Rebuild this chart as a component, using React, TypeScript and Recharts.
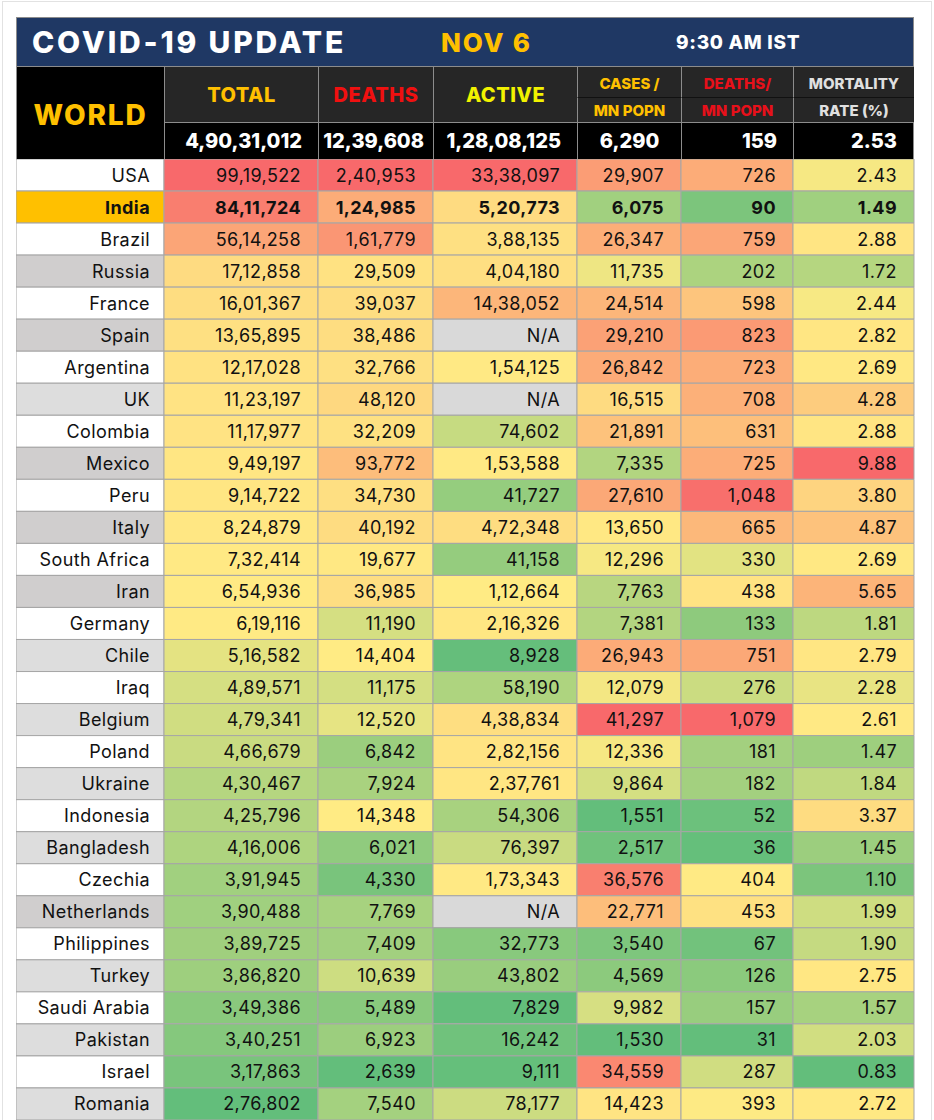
import React from 'react';
import { BarChart, Bar, XAxis, YAxis, Cell, LabelList } from 'recharts';

const countries = [
  'USA', 'India', 'Brazil', 'Russia', 'France', 'Spain', 'Argentina', 'UK', 'Colombia', 'Mexico',
  'Peru', 'Italy', 'South Africa', 'Iran', 'Germany', 'Chile', 'Iraq', 'Belgium', 'Poland', 'Ukraine',
  'Indonesia', 'Bangladesh', 'Czechia', 'Netherlands', 'Philippines', 'Turkey', 'Saudi Arabia', 'Pakistan', 'Israel', 'Romania',
];
const totalCases = [
  9919522, 8411724, 5614258, 1712858, 1601367, 1365895, 1217028, 1123197, 1117977, 949197,
  914722, 824879, 732414, 654936, 619116, 516582, 489571, 479341, 466679, 430467,
  425796, 416006, 391945, 390488, 389725, 386820, 349386, 340251, 317863, 276802,
];
const deaths = [
  240953, 124985, 161779, 29509, 39037, 38486, 32766, 48120, 32209, 93772,
  34730, 40192, 19677, 36985, 11190, 14404, 11175, 12520, 6842, 7924,
  14348, 6021, 4330, 7769, 7409, 10639, 5489, 6923, 2639, 7540,
];
const activeCases: (number | null)[] = [
  3338097, 520773, 388135, 404180, 1438052, null, 154125, null, 74602, 153588,
  41727, 472348, 41158, 112664, 216326, 8928, 58190, 438834, 282156, 237761,
  54306, 76397, 173343, null, 32773, 43802, 7829, 16242, 9111, 78177,
];
const casesPerMn = [
  29907, 6075, 26347, 11735, 24514, 29210, 26842, 16515, 21891, 7335,
  27610, 13650, 12296, 7763, 7381, 26943, 12079, 41297, 12336, 9864,
  1551, 2517, 36576, 22771, 3540, 4569, 9982, 1530, 34559, 14423,
];
const deathsPerMn = [
  726, 90, 759, 202, 598, 823, 723, 708, 631, 725,
  1048, 665, 330, 438, 133, 751, 276, 1079, 181, 182,
  52, 36, 404, 453, 67, 126, 157, 31, 287, 393,
];
const mortalityRate = [
  2.43, 1.49, 2.88, 1.72, 2.44, 2.82, 2.69, 4.28, 2.88, 9.88,
  3.8, 4.87, 2.69, 5.65, 1.81, 2.79, 2.28, 2.61, 1.47, 1.84,
  3.37, 1.45, 1.1, 1.99, 1.9, 2.75, 1.57, 2.03, 0.83, 2.72,
];
const worldValues = [49031012, 1239608, 12808125, 6290, 159, 2.53];

const darkGrayRows = ['Russia', 'Spain', 'Mexico', 'Italy', 'Iran', 'Netherlands'];
const lightGrayRows = ['UK', 'Chile', 'Belgium', 'Ukraine', 'Bangladesh', 'Turkey', 'Pakistan', 'Romania'];

const FONT = 'Inter, "Open Sans", sans-serif';
const LEFT = 16;
const COL_W = [148, 154, 115, 144, 104, 112, 121];
const TABLE_W = COL_W.reduce((a, b) => a + b, 0);
const colX = COL_W.map((_, i) => LEFT + COL_W.slice(0, i).reduce((a, b) => a + b, 0));

// indian digit grouping: 99,19,522
const fmtIN = (n: number) => {
  const s = Math.round(n).toString();
  if (s.length <= 3) return s;
  const last3 = s.slice(-3);
  let rest = s.slice(0, -3);
  const parts: string[] = [];
  while (rest.length > 2) {
    parts.unshift(rest.slice(-2));
    rest = rest.slice(0, -2);
  }
  if (rest) parts.unshift(rest);
  return parts.join(',') + ',' + last3;
};
const fmtRate = (n: number) => n.toFixed(2);

// excel style green - yellow - red scale (min, 50th percentile, max)
const GREEN = [99, 190, 123];
const YELLOW = [255, 235, 132];
const RED = [248, 105, 107];
const mix = (a: number[], b: number[], t: number) =>
  `rgb(${a.map((v, i) => Math.round(v + (b[i] - v) * t)).join(',')})`;
const makeScale = (vals: (number | null)[]) => {
  const s = (vals.filter((v) => v !== null) as number[]).slice().sort((a, b) => a - b);
  const min = s[0];
  const max = s[s.length - 1];
  const r = 0.5 * (s.length - 1);
  const lo = Math.floor(r);
  const mid = s[lo] + (s[Math.min(lo + 1, s.length - 1)] - s[lo]) * (r - lo);
  return (v: number | null) => {
    if (v === null) return '#D9D9D9';
    if (v <= mid) return mix(GREEN, YELLOW, mid === min ? 1 : (v - min) / (mid - min));
    return mix(YELLOW, RED, max === mid ? 0 : (v - mid) / (max - mid));
  };
};

const columns = [
  { values: totalCases, fmt: fmtIN },
  { values: deaths, fmt: fmtIN },
  { values: activeCases, fmt: fmtIN },
  { values: casesPerMn, fmt: fmtIN },
  { values: deathsPerMn, fmt: fmtIN },
  { values: mortalityRate, fmt: fmtRate },
];
const scales = columns.map((c) => makeScale(c.values));

const rows = countries.map((country, i) => {
  const row: Record<string, string | number> = { country, w0: COL_W[0] };
  columns.forEach((c, j) => {
    const v = c.values[i];
    row[`w${j + 1}`] = COL_W[j + 1];
    row[`t${j + 1}`] = v === null ? 'N/A' : c.fmt(v);
  });
  return row;
});

const countryFill = (c: string) => {
  if (c === 'India') return '#FFC000';
  if (darkGrayRows.includes(c)) return '#D0CECE';
  if (lightGrayRows.includes(c)) return '#DDDDDD';
  return '#FFFFFF';
};

const cellLabel = (pad: number) => (props: any) => {
  const { x, y, width, height, value, index } = props;
  const bold = countries[index] === 'India';
  return (
    <text
      x={Number(x) + Number(width) - pad}
      y={Number(y) + Number(height) / 2}
      textAnchor="end"
      dominantBaseline="central"
      fontFamily={FONT}
      fontSize={18}
      fontWeight={bold ? 700 : 400}
      letterSpacing={0.4}
      fill="#111"
    >
      {value}
    </text>
  );
};

const Box = ({ x, y, w, h, bg, children, style }: any) => (
  <div
    style={{
      position: 'absolute',
      left: x,
      top: y,
      width: w,
      height: h,
      background: bg,
      boxSizing: 'border-box',
      display: 'flex',
      alignItems: 'center',
      fontFamily: FONT,
      ...style,
    }}
  >
    {children}
  </div>
);

const headTop = [
  { text: 'TOTAL', color: '#FFC000' },
  { text: 'DEATHS', color: '#F01010' },
  { text: 'ACTIVE', color: '#F2F200' },
];
const headSplit = [
  { a: 'CASES /', b: 'MN POPN', color: '#FFC000' },
  { a: 'DEATHS/', b: 'MN POPN', color: '#E8101A' },
  { a: 'MORTALITY', b: 'RATE (%)', color: '#E0E0E0' },
];
const worldPad = [16, 9, 16, 0, 16, 16];

export default function App() {
  const line = '1px solid #8C8C8C';
  return (
    <div style={{ position: 'absolute', left: 0, top: 0, width: 934, height: 1120, background: '#fff', overflow: 'hidden' }}>
      <div style={{ position: 'absolute', left: 2, top: 1, width: 930, height: 1200, border: '1px solid #E2E2E2', boxSizing: 'border-box' }} />
      {/* title bar */}
      <Box x={LEFT} y={17} w={TABLE_W} h={50} bg="#1F3864" style={{ border: '1px solid #8C8C8C' }}>
        <span style={{ position: 'absolute', left: 15, color: '#fff', fontWeight: 800, fontSize: 30, letterSpacing: 2.8 }}>COVID-19 UPDATE</span>
        <span style={{ position: 'absolute', left: 424, color: '#FFC000', fontWeight: 800, fontSize: 26, letterSpacing: 1.8 }}>NOV 6</span>
        <span style={{ position: 'absolute', left: 659, color: '#fff', fontWeight: 800, fontSize: 19, letterSpacing: 0.7 }}>9:30 AM IST</span>
      </Box>

      {/* header */}
      <Box x={LEFT} y={67} w={COL_W[0]} h={92} bg="#000" style={{ justifyContent: 'center', paddingTop: 2, borderLeft: line }}>
        <span style={{ color: '#FFC000', fontWeight: 800, fontSize: 28, marginTop: 2, letterSpacing: 1.8 }}>WORLD</span>
      </Box>
      {headTop.map((h, i) => (
        <Box key={h.text} x={colX[i + 1]} y={67} w={COL_W[i + 1]} h={56} bg="#262626" style={{ justifyContent: 'center', borderLeft: line, borderBottom: line }}>
          <span style={{ color: h.color, fontWeight: 800, fontSize: 20, letterSpacing: 0.5 }}>{h.text}</span>
        </Box>
      ))}
      {headSplit.map((h, i) => (
        <React.Fragment key={h.a}>
          <Box x={colX[i + 4]} y={67} w={COL_W[i + 4]} h={31} bg="#262626" style={{ justifyContent: 'center', borderLeft: line, borderBottom: '1px solid #111', paddingTop: 2 }}>
            <span style={{ color: h.color, fontWeight: 800, fontSize: 15 }}>{h.a}</span>
          </Box>
          <Box x={colX[i + 4]} y={98} w={COL_W[i + 4]} h={25} bg="#262626" style={{ justifyContent: 'center', borderLeft: line, borderBottom: line }}>
            <span style={{ color: h.color, fontWeight: 800, fontSize: 15 }}>{h.b}</span>
          </Box>
        </React.Fragment>
      ))}
      {worldValues.map((v, i) => (
        <Box
          key={i}
          x={colX[i + 1]}
          y={123}
          w={COL_W[i + 1]}
          h={36}
          bg="#000"
          style={{ justifyContent: i === 3 ? 'center' : 'flex-end', paddingRight: worldPad[i], borderLeft: line, borderRight: i === 5 ? line : undefined }}
        >
          <span style={{ color: '#fff', fontWeight: 800, fontSize: 20 }}>{i === 5 ? fmtRate(v) : fmtIN(v)}</span>
        </Box>
      ))}

      {/* body: one stacked bar per country, one segment per column */}
      <div style={{ position: 'absolute', left: LEFT, top: 159 }}>
        <BarChart
          width={TABLE_W + 1}
          height={961}
          data={rows}
          layout="vertical"
          margin={{ top: 0, right: 1, bottom: 0, left: 0 }}
          barCategoryGap={0}
          barGap={0}
        >
          <XAxis type="number" hide domain={[0, TABLE_W]} />
          <YAxis type="category" dataKey="country" hide />
          <Bar dataKey="w0" stackId="row" isAnimationActive={false} stroke="#A6A6A6" strokeWidth={1}>
            {rows.map((r, i) => (
              <Cell key={i} fill={countryFill(String(r.country))} />
            ))}
            <LabelList dataKey="country" content={cellLabel(14)} />
          </Bar>
          {columns.map((c, j) => (
            <Bar key={j} dataKey={`w${j + 1}`} stackId="row" isAnimationActive={false} stroke="#A6A6A6" strokeWidth={1}>
              {c.values.map((v, i) => (
                <Cell key={i} fill={scales[j](v)} />
              ))}
              <LabelList dataKey={`t${j + 1}`} content={cellLabel(17)} />
            </Bar>
          ))}
        </BarChart>
      </div>
    </div>
  );
}
